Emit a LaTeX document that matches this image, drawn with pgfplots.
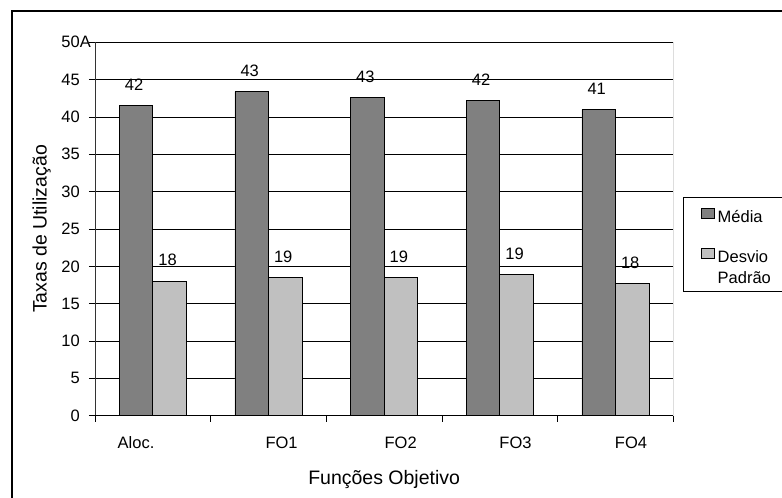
\documentclass[border=0pt]{standalone}
\usepackage{fontspec}
\setmainfont{Liberation Sans}
\usepackage{pgfplots}
\pgfplotsset{compat=1.18}

\definecolor{media}{HTML}{808080}
\definecolor{desvio}{HTML}{C0C0C0}
\definecolor{borda}{HTML}{A0A0A0}

\newcommand{\tickfont}{\fontsize{16.5}{19}\selectfont}
\newcommand{\titlefont}{\fontsize{19.5}{23}\selectfont}
\newcommand{\legfont}{\fontsize{16.5}{20.6}\selectfont}

% legend key: a small filled square; the invisible path sets the row height
\pgfplotsset{
  legsquare/.style 2 args={legend image code/.code={
    \path[draw=none, fill=none] (0pt,-#2) -- (0pt,#1);
    \draw[##1, line width=0.6pt] (0pt,-1pt) rectangle (12.5pt,8.5pt);}},
}

\begin{document}
\begin{tikzpicture}
\path[use as bounding box] (0pt,0pt) rectangle (782pt,498pt);
% outer chart frame
\draw[line width=1.3pt] (12pt,0pt) -- (12pt,487pt) -- (782pt,487pt);
\begin{axis}[
  at={(95pt,82.3pt)}, anchor=south west,
  scale only axis, width=578.3pt, height=373.4pt,
  xmin=-0.5, xmax=4.5, ymin=0, ymax=50,
  ybar=0pt, bar width=33.5pt,
  axis line style={draw=none},
  tick align=outside,
  xtick pos=left, ytick pos=left,
  ytick={0,5,...,50},
  yticklabels={0,5,10,15,20,25,30,35,40,45,50\rlap{A}},
  ymajorgrids,
  major grid style={black, line width=0.8pt},
  major tick length=6pt, minor tick length=6pt,
  ytick style={black, line width=0.8pt},
  xtick={-0.145,1.113,2.143,3.136,4.134},
  xticklabels={Aloc.,FO1,FO2,FO3,FO4},
  major x tick style={draw=none},
  minor xtick={-0.5,0.5,1.5,2.5,3.5,4.5},
  minor x tick style={black, line width=0.8pt},
  tick label style={font=\tickfont},
  yticklabel style={anchor=east, inner sep=0pt, xshift=-9pt},
  xticklabel style={anchor=north, inner sep=0pt, yshift=-14.6pt},
  xlabel={Funções Objetivo},
  ylabel={Taxas de Utilização},
  label style={font=\titlefont},
  xlabel style={at={(axis description cs:0.5,-0.171)}, anchor=center},
  ylabel style={at={(axis description cs:-0.0925,0.5)}, anchor=center},
  /pgf/number format/assume math mode=true,
  nodes near coords={\pgfmathprintnumber[fixed,precision=0]{\pgfplotspointmeta}},
  every node near coord/.append style={font=\tickfont, anchor=south, inner sep=0pt, yshift=14.8pt, xshift=-2pt},
  legend style={at={(axis description cs:1.0163,0.5865)}, anchor=north west,
    draw=black, line width=0.8pt, font=\legfont,
    nodes={inner sep=0pt},
    inner xsep=18pt, inner ysep=6pt, row sep=0pt, column sep=3.5pt},
  legend cell align=left,
]
\addplot[draw=black, line width=0.8pt, fill=media, legsquare={14pt}{20pt}] coordinates {
  (0,41.5) (1,43.4) (2,42.6) (3,42.2) (4,41.0)};
\addlegendentry{Média}
\addplot[draw=black, line width=0.8pt, fill=desvio, legsquare={20pt}{6pt}] coordinates {
  (0,18.0) (1,18.5) (2,18.5) (3,18.9) (4,17.7)};
\addlegendentry{Desvio}
\addlegendimage{legend image code/.code={\path[draw=none, fill=none] (0pt,-5.7pt) -- (12.5pt,14.6pt);}}
\addlegendentry{Padrão}
% plot area borders
\draw[black!80, line width=0.8pt] (rel axis cs:0,0) -- (rel axis cs:0,1);
\draw[black, line width=0.8pt] (rel axis cs:0,0) -- (rel axis cs:1,0);
\draw[borda, line width=0.8pt] (rel axis cs:1,0) -- (rel axis cs:1,1);
\end{axis}
\end{tikzpicture}
\end{document}
